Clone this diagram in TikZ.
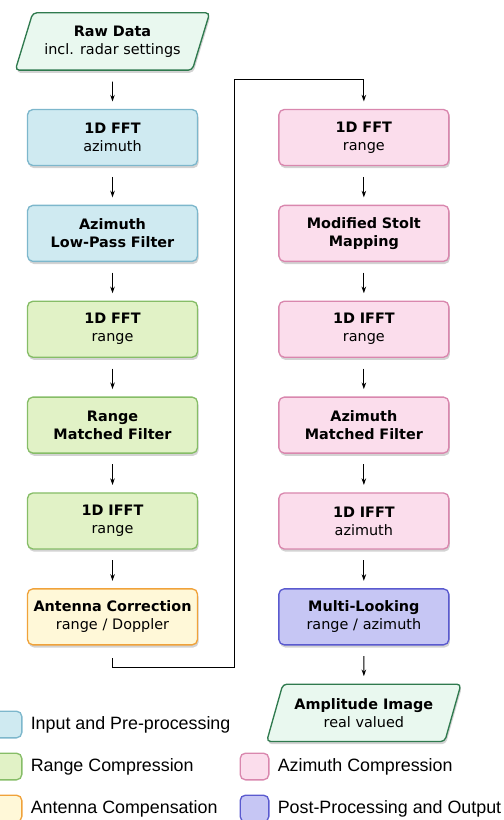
\documentclass[tikz,border=0pt]{standalone}
\usepackage{fontspec}
\setmainfont{DejaVu Sans}
\newfontfamily\legfont{Liberation Sans}
\usepackage{tikz}
\usetikzlibrary{shapes.geometric, arrows.meta, positioning, shadows}

\definecolor{inputfill}{HTML}{CFEAF1}
\definecolor{inputdraw}{HTML}{7DB7CC}
\definecolor{rangefill}{HTML}{E1F2C6}
\definecolor{rangedraw}{HTML}{86BD67}
\definecolor{antfill}{HTML}{FFF8D8}
\definecolor{antdraw}{HTML}{F0A23A}
\definecolor{azfill}{HTML}{FBDDEC}
\definecolor{azdraw}{HTML}{D987AE}
\definecolor{postfill}{HTML}{C6C6F4}
\definecolor{postdraw}{HTML}{5A5ACF}
\definecolor{iofill}{HTML}{E9F8EF}
\definecolor{iodraw}{HTML}{2F7A4E}

\begin{document}
\begin{tikzpicture}[
    x=0.75pt, y=-0.75pt,
    node distance=28.9pt and 60pt,
    font=\fontsize{10.8}{13.5}\selectfont,
    >={Stealth[length=5pt,width=3.4pt]},
    % Styles
    stage/.style={rectangle, rounded corners=4pt, line width=1pt, minimum width=127.5pt, minimum height=42pt, text width=124pt, align=center, inner sep=1pt, drop shadow={shadow xshift=0.8pt, shadow yshift=-2pt, opacity=0.35}},
    inputstage/.style={stage, draw=inputdraw, fill=inputfill},
    rangestage/.style={stage, draw=rangedraw, fill=rangefill},
    antstage/.style={stage, draw=antdraw, fill=antfill},
    azstage/.style={stage, draw=azdraw, fill=azfill},
    poststage/.style={stage, draw=postdraw, fill=postfill},
    iodata/.style={trapezium, trapezium left angle=66, trapezium right angle=114, trapezium stretches=true, minimum width=146pt, minimum height=43pt, rounded corners=3pt, align=center, inner sep=1pt, line width=1pt, draw=iodraw, fill=iofill, drop shadow={shadow xshift=0.8pt, shadow yshift=-2pt, opacity=0.35}},
    flow/.style={->, line width=0.7pt, shorten <=8pt, shorten >=5.5pt},
    legkey/.style={rectangle, rounded corners=4pt, line width=1pt, minimum width=21.5pt, minimum height=20pt},
    legtext/.style={font=\legfont\fontsize{13.4}{15}\selectfont, anchor=west, inner sep=0pt}
]
\useasboundingbox (0,0) rectangle (503,820);

% --- Left column ---
\node[iodata] (raw) at (112.5,41.5) {\textbf{Raw Data}\\incl. radar settings};
\node[inputstage, below=28.5pt of raw] (azfft) {\textbf{1D FFT}\\azimuth};
\node[inputstage, below=of azfft] (lpf) {\textbf{Azimuth}\\\textbf{Low-Pass Filter}};
\node[rangestage, below=of lpf] (rgfft) {\textbf{1D FFT}\\range};
\node[rangestage, below=of rgfft] (rgmf) {\textbf{Range}\\\textbf{Matched Filter}};
\node[rangestage, below=of rgmf] (rgifft) {\textbf{1D IFFT}\\range};
\node[antstage, below=of rgifft] (antcorr) {\textbf{Antenna Correction}\\range / Doppler};

\draw[flow] (raw) -- (azfft);
\draw[flow] (azfft) -- (lpf);
\draw[flow] (lpf) -- (rgfft);
\draw[flow] (rgfft) -- (rgmf);
\draw[flow] (rgmf) -- (rgifft);
\draw[flow] (rgifft) -- (antcorr);

% --- Right column ---
\node[azstage, right=of azfft] (azrgfft) {\textbf{1D FFT}\\range};
\node[azstage, below=of azrgfft] (stolt) {\textbf{Modified Stolt}\\\textbf{Mapping}};
\node[azstage, below=of stolt] (stoltifft) {\textbf{1D IFFT}\\range};
\node[azstage, below=of stoltifft] (azmf) {\textbf{Azimuth}\\\textbf{Matched Filter}};
\node[azstage, below=of azmf] (azifft) {\textbf{1D IFFT}\\azimuth};
\node[poststage, below=of azifft] (multilook) {\textbf{Multi-Looking}\\range / azimuth};
\node[iodata, below=28.5pt of multilook] (ampimg) {\textbf{Amplitude Image}\\real valued};

\draw[flow] (azrgfft) -- (stolt);
\draw[flow] (stolt) -- (stoltifft);
\draw[flow] (stoltifft) -- (azmf);
\draw[flow] (azmf) -- (azifft);
\draw[flow] (azifft) -- (multilook);
\draw[flow] (multilook) -- (ampimg);

% --- Link between the columns ---
\coordinate (lowturn) at (234,667);
\coordinate (highturn) at (234,79);
\draw[flow, shorten <=9.5pt] (antcorr) |- (lowturn) -- (highturn) -| (azrgfft);

% --- Legend ---
\node[legkey, draw=inputdraw, fill=inputfill] (keyin) at (7.5,724.5) {};
\node[legkey, draw=rangedraw, fill=rangefill] (keyrc) at (7.5,766.5) {};
\node[legkey, draw=antdraw, fill=antfill] (keyant) at (7.5,808.5) {};
\node[legkey, draw=azdraw, fill=azfill] (keyaz) at (254.5,766.5) {};
\node[legkey, draw=postdraw, fill=postfill] (keypost) at (254.5,808.5) {};

\node[legtext, right=6pt of keyin] (txtin) {Input and Pre-processing};
\node[legtext, right=6pt of keyrc] (txtrc) {Range Compression};
\node[legtext, right=6pt of keyant] (txtant) {Antenna Compensation};
\node[legtext, right=6pt of keyaz] (txtaz) {Azimuth Compression};
\node[legtext, right=6pt of keypost] (txtpost) {Post-Processing and Output};

\end{tikzpicture}
\end{document}
